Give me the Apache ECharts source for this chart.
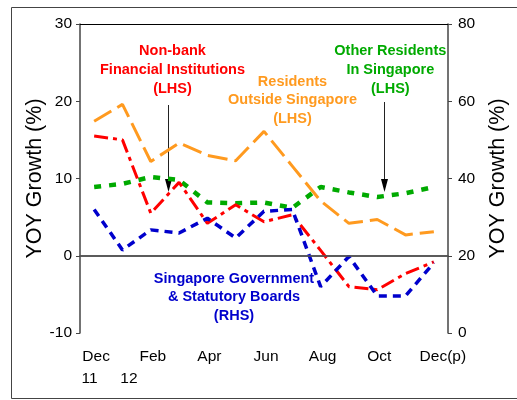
<!DOCTYPE html>
<html>
<head>
<meta charset="utf-8">
<script src="https://cdn.jsdelivr.net/npm/echarts@6/dist/echarts.min.js"></script>
<style>
html,body{margin:0;padding:0;background:#fff;}
#c{width:517px;height:400px;}
</style>
</head>
<body>
<div id="c"></div>
<script>
// ---- data ----
var months = ['Dec','Jan','Feb','Mar','Apr','May','Jun','Jul','Aug','Sep','Oct','Nov','Dec(p)'];
var yearLabels = ['11','12'];
var nonBank = [15.5, 15.0, 5.5, 9.5, 4.2, 6.6, 4.4, 5.3, 0.7, -4.0, -4.4, -2.3, -0.8];
var outside = [17.4, 19.6, 12.2, 14.6, 13.0, 12.3, 16.1, 11.6, 7.1, 4.2, 4.7, 2.7, 3.1];
var otherRes = [8.9, 9.3, 10.2, 9.8, 6.9, 6.8, 6.9, 6.2, 8.9, 8.2, 7.6, 8.1, 8.9];
var govBoards = [32.0, 21.5, 26.7, 25.9, 29.7, 24.6, 31.5, 32.0, 12.0, 19.8, 9.6, 9.6, 18.2];
var leftTicks = {min:-10, max:30, step:10};
var rightTicks = {min:0, max:80, step:20};

var FONT = '"Liberation Sans", Arial, sans-serif';
var RED = '#ff0000', ORANGE = '#ff9a1f', GREEN = '#00aa00', BLUE = '#0000cc';
var AXC = '#444';

var chart = echarts.init(document.getElementById('c'), null, {renderer:'canvas'});

function monthFmt(v, i){
  if (i === months.length - 1) return '{p|' + v + '}';
  return '{m|' + v + '}';
}
function yearFmt(v, i){
  if (i === 0) return '{y0|' + yearLabels[0] + '}';
  if (i === 1) return '{y1|' + yearLabels[1] + '}';
  return '';
}

var option = {
  animation:false,
  textStyle:{fontFamily:FONT},
  grid:{left:80, top:24, right:59, bottom:67, containLabel:false},
  xAxis:[
    {type:'category', data:months, position:'bottom', boundaryGap:true,
     axisLine:{lineStyle:{color:AXC, width:1.5}},
     axisTick:{alignWithLabel:true, interval:0, length:4, lineStyle:{color:AXC, width:1}},
     axisLabel:{interval:function(i){return i % 2 === 0;}, formatter:monthFmt, margin:16,
       showMinLabel:true, showMaxLabel:true, hideOverlap:false,
       color:'#000', fontFamily:FONT, fontSize:15.5,
       rich:{
         m:{fontSize:15.5, color:'#000', fontFamily:FONT, padding:[0,0,0,4]},
         p:{fontSize:15.5, color:'#000', fontFamily:FONT, padding:[0,0,0,18]}
       }},
     splitLine:{show:false}},
    {type:'category', data:months, position:'bottom', boundaryGap:true, offset:0,
     axisLine:{show:false},
     axisTick:{alignWithLabel:true, interval:0, inside:true, length:4, lineStyle:{color:AXC, width:1}},
     axisLabel:{inside:false, interval:function(i){return i <= 1;}, formatter:yearFmt, margin:38,
       showMinLabel:true, hideOverlap:false, color:'#000', fontFamily:FONT, fontSize:15.5,
       rich:{
         y0:{fontSize:15.5, color:'#000', fontFamily:FONT, padding:[0,9,2,0]},
         y1:{fontSize:15.5, color:'#000', fontFamily:FONT, padding:[0,0,2,13]}
       }},
     splitLine:{show:false}},
    {type:'category', data:months, position:'top', boundaryGap:true,
     axisLine:{lineStyle:{color:'#000', width:1}},
     axisTick:{show:false}, axisLabel:{show:false}, splitLine:{show:false}}
  ],
  yAxis:[
    {type:'value', position:'left', min:leftTicks.min, max:leftTicks.max, interval:leftTicks.step,
     name:'YOY Growth (%)', nameLocation:'middle', nameRotate:90, nameGap:34, nameMoveOverlap:false,
     nameTextStyle:{fontSize:21.5, color:'#000', fontFamily:FONT},
     axisLine:{show:true, lineStyle:{color:AXC, width:1.5}},
     axisTick:{show:true, length:4, lineStyle:{color:AXC}},
     axisLabel:{margin:8, color:'#000', fontSize:15.5, fontFamily:FONT},
     splitLine:{show:false}},
    {type:'value', position:'right', min:rightTicks.min, max:rightTicks.max, interval:rightTicks.step,
     name:'YOY Growth (%)', nameLocation:'middle', nameRotate:90, nameGap:39, nameMoveOverlap:false,
     nameTextStyle:{fontSize:21.5, color:'#000', fontFamily:FONT},
     axisLine:{show:true, lineStyle:{color:AXC, width:1.5}},
     axisTick:{show:true, length:4, lineStyle:{color:AXC}},
     axisLabel:{margin:10, color:'#000', fontSize:15.5, fontFamily:FONT},
     splitLine:{show:false}}
  ],
  series:[
    {name:'Residents Outside Singapore', type:'line', data:outside, yAxisIndex:0, symbol:'none',
     lineStyle:{color:ORANGE, width:3, type:[20,7], cap:'butt'},
     markLine:{silent:true, symbol:'none', label:{show:false},
       lineStyle:{color:'#555', width:1.5, type:'solid'}, data:[{yAxis:0}]}},
    {name:'Other Residents In Singapore', type:'line', data:otherRes, yAxisIndex:0, symbol:'none',
     lineStyle:{color:GREEN, width:4.5, type:[7,8], cap:'butt'}},
    {name:'Non-bank Financial Institutions', type:'line', data:nonBank, yAxisIndex:0, symbol:'none',
     lineStyle:{color:RED, width:3, type:[14,5,4,5], cap:'butt'}},
    {name:'Singapore Government & Statutory Boards', type:'line', data:govBoards, yAxisIndex:1, symbol:'none',
     lineStyle:{color:BLUE, width:3.5, type:[8,6], cap:'butt'}}
  ],
  graphic:[
    {type:'rect', shape:{x:11.5, y:7.5, width:520, height:391}, style:{fill:null, stroke:'#444', lineWidth:1}, silent:true},
    {type:'text', x:172.5, y:42, style:{text:'Non-bank\nFinancial Institutions\n(LHS)', fill:RED, font:'bold 14.5px '+FONT, textAlign:'center', lineHeight:18.8}},
    {type:'text', x:292.5, y:72.5, style:{text:'Residents\nOutside Singapore\n(LHS)', fill:ORANGE, font:'bold 14.5px '+FONT, textAlign:'center', lineHeight:18.6}},
    {type:'text', x:390.3, y:42, style:{text:'Other Residents\nIn Singapore\n(LHS)', fill:GREEN, font:'bold 14.5px '+FONT, textAlign:'center', lineHeight:18.8}},
    {type:'text', x:234, y:269.5, style:{text:'Singapore Government\n& Statutory Boards\n(RHS)', fill:BLUE, font:'bold 14.5px '+FONT, textAlign:'center', lineHeight:18.5}},
    {type:'line', shape:{x1:168.5, y1:105, x2:168.5, y2:182}, style:{stroke:'#222', lineWidth:1}},
    {type:'polygon', shape:{points:[[165,179],[172,179],[168.5,192]]}, style:{fill:'#000'}},
    {type:'line', shape:{x1:384.5, y1:102, x2:384.5, y2:182}, style:{stroke:'#222', lineWidth:1}},
    {type:'polygon', shape:{points:[[381,179],[388,179],[384.5,192]]}, style:{fill:'#000'}}
  ]
};
chart.setOption(option);
</script>
</body>
</html>
